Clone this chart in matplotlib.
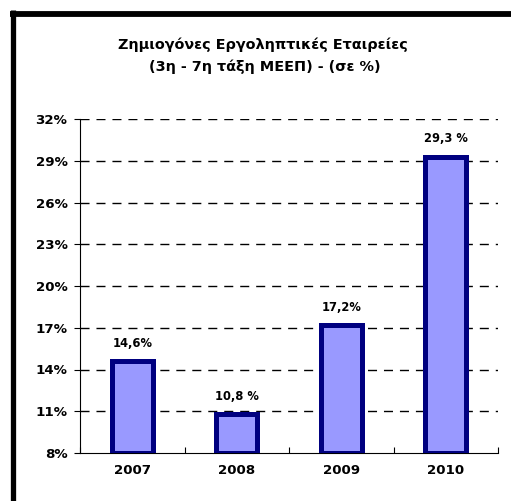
import matplotlib.pyplot as plt
from matplotlib.lines import Line2D

years = ['2007', '2008', '2009', '2010']
values = [14.6, 10.8, 17.2, 29.3]
value_labels = ['14,6%', '10,8 %', '17,2%', '29,3 %']
yticks = [8, 11, 14, 17, 20, 23, 26, 29, 32]

W, H = 511, 501
fig = plt.figure(figsize=(W / 100, H / 100), dpi=100)
plt.rcParams['font.family'] = ['DejaVu Sans']

# axes placed in pixel terms
left, right, top, bottom = 80, 498, 119, 453
ax = fig.add_axes([left / W, 1 - bottom / H, (right - left) / W, (bottom - top) / H])

x = range(len(years))
ax.bar(x, [v - 8 for v in values], bottom=8, width=0.39,
       color='#9999FF', edgecolor='#000080', linewidth=3.6, zorder=3)

for i, (v, lab) in enumerate(zip(values, value_labels)):
    ax.annotate(lab, (i, v), xytext=(0, 8), textcoords='offset points',
                ha='center', va='bottom', fontsize=8.3, fontweight='bold')

ax.set_xlim(-0.5, 3.5)
ax.set_ylim(8, 32)
ax.set_yticks(yticks)
ax.set_yticklabels([f'{t}%' for t in yticks], fontsize=9.6, fontweight='bold')
ax.set_xticks(list(x))
ax.set_xticklabels(years, fontsize=9.6, fontweight='bold')
ax.tick_params(axis='x', length=0, pad=8)
ax.tick_params(axis='y', length=4, width=0.8, pad=5)
ax.set_xticks([-0.5, 0.5, 1.5, 2.5, 3.5], minor=True)
ax.tick_params(axis='x', which='minor', length=4, width=0.8, direction='in')

for t in yticks[1:]:
    ax.axhline(t, color='black', linewidth=1.0, linestyle=(0, (6.5, 5)), zorder=1)

ax.spines['top'].set_visible(False)
ax.spines['right'].set_visible(False)
ax.spines['left'].set_linewidth(0.8)
ax.spines['bottom'].set_linewidth(0.8)

fig.text(263 / W, 1 - 45 / H, 'Ζημιογόνες Εργοληπτικές Εταιρείες',
         ha='center', va='center', fontsize=10.4, fontweight='bold')
fig.text(265 / W, 1 - 67 / H, '(3η - 7η τάξη ΜΕΕΠ) - (σε %)',
         ha='center', va='center', fontsize=10.4, fontweight='bold')

# thick frame (left and top edges visible)
fig.add_artist(Line2D([12.5 / W, 12.5 / W], [0, 1 - 10 / H], color='black',
                      linewidth=3.8, transform=fig.transFigure, solid_capstyle='butt'))
fig.add_artist(Line2D([10 / W, 1], [1 - 13.5 / H, 1 - 13.5 / H], color='black',
                      linewidth=4.2, transform=fig.transFigure, solid_capstyle='butt'))

fig.savefig('out.png', dpi=100)
